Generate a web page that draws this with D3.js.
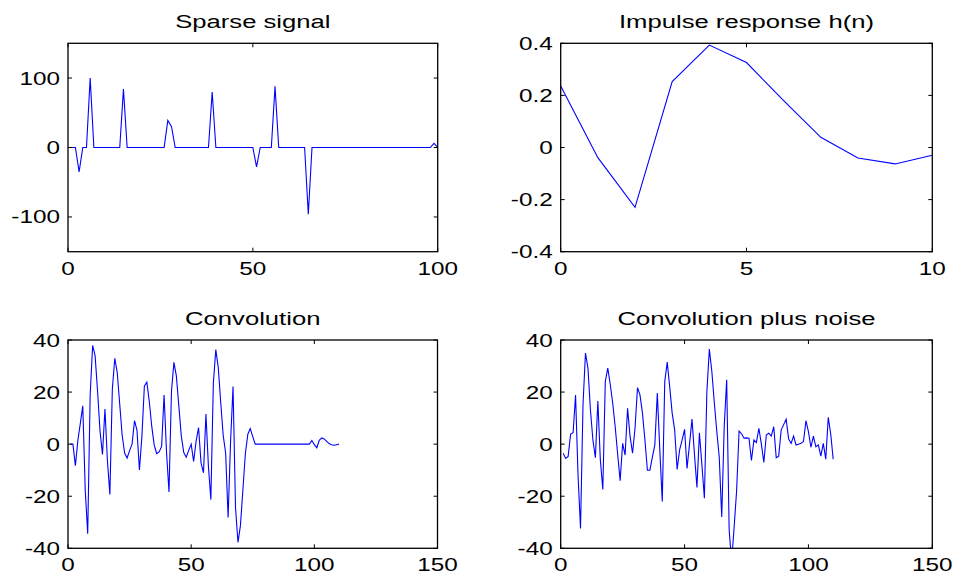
<!DOCTYPE html>
<html>
<head>
<meta charset="utf-8">
<script src="https://cdn.jsdelivr.net/npm/d3@7"></script>
<style>
  body { margin: 0; background: #fff; }
  svg { display: block; }
  text { font-family: "Liberation Sans", Arial, sans-serif; fill: #000; }
</style>
</head>
<body>
<svg id="chart" width="957" height="576"></svg>
<script>
// sparse signal, samples 1..100
const sparseSignal = [
  0, 0, -35, 0, 0, 100, 0, 0, 0, 0,
  0, 0, 0, 0, 84, 0, 0, 0, 0, 0,
  0, 0, 0, 0, 0, 0, 39, 30, 0, 0,
  0, 0, 0, 0, 0, 0, 0, 0, 80, 0,
  0, 0, 0, 0, 0, 0, 0, 0, 0, 0,
  -28, 0, 0, 0, 0, 88, 0, 0, 0, 0,
  0, 0, 0, 0, -96, 0, 0, 0, 0, 0,
  0, 0, 0, 0, 0, 0, 0, 0, 0, 0,
  0, 0, 0, 0, 0, 0, 0, 0, 0, 0,
  0, 0, 0, 0, 0, 0, 0, 0, 6, 0
];

// impulse response h(n), n = 0..10
const impulse = [0.236, -0.039, -0.23, 0.253, 0.393, 0.326, 0.18, 0.039, -0.04, -0.063, -0.03];

// convolution, samples 1..110
const convolution = [
  0, 0, -8.3, 1.4, 8, 14.7, -17.7, -34.4, 18.9, 37.9,
  34, 20.4, 5, -4, 13.5, -6.3, -19.3, 21.2, 33, 27.4,
  15.3, 3.3, -3.4, -5.3, -2.5, 0, 9, 5.4, -9.9, 2.9,
  22.3, 23.8, 16.4, 6.8, -0.4, -3.6, -3, -0.9, 18.9, -3.1,
  -18.4, 20.2, 31.4, 26.1, 14.6, 3.1, -3.2, -5, -2.4, 0,
  -6.6, 1.1, 6.4, -7.1, -11, 11.6, -8.5, -21.3, 23.4, 36.3,
  29.5, 16, 3.4, -3.5, -28.2, 1.1, 22.1, -24.3, -37.7, -31.3,
  -17.5, -3.7, 3.8, 6, 2.9, 0, 0, 0, 0, 0,
  0, 0, 0, 0, 0, 0, 0, 0, 0, 0,
  0, 0, 0, 0, 0, 0, 0, 0, 1.4, -0.2,
  -1.4, 1.5, 2.4, 2, 1.1, 0.2, -0.2, -0.4, -0.2, 0
];

// convolution plus noise, samples 1..110
const noisy = [
  -3.5, -5.5, -4.7, 3.9, 4.4, 18.9, -12, -32.4, 15, 35,
  29.2, 13.2, 1.6, -5.2, 16.6, -6.1, -17.4, 24, 29.2, 23,
  15.7, 6.7, -4, -14, 0.3, -4.2, 13.8, 3, -3.5, 6.1,
  21.7, 18.9, 11.9, 1.6, -10, -10, -5, -0.3, 19.6, -2,
  -22, 24, 31.5, 22, 11.9, 5.5, -9.7, -2.2, 1.5, 5.7,
  -9.3, 0, 9.6, -4, -16.6, 4.4, -8, -20.8, 20, 36.5,
  28, 16, 5, -5, -28, 6.7, 24.7, -33, -45, -32,
  -18, 5, 4, 2.3, 2.4, 2.3, -6.3, 1.6, 0.6, 6.1,
  0, -7, 3.5, 4.2, 3.1, 6.7, -5.2, -4.6, 5.5, 7.5,
  9.6, 2, 0.3, 3.1, -0.3, 0, 0.3, 1, 9, 4.8,
  -1.2, 3.1, -1, -0.3, -4.6, 0.3, -5.8, 10.3, 3.9, -5.8
];

const titles = ['Sparse signal', 'Impulse response h(n)', 'Convolution', 'Convolution plus noise'];
const xTicksTop = [0, 50, 100];
const yTicksSparse = [-100, 0, 100];
const xTicksImpulse = [0, 5, 10];
const yTicksImpulse = [-0.4, -0.2, 0, 0.2, 0.4];
const xTicksConv = [0, 50, 100, 150];
const yTicksConv = [-40, -20, 0, 20, 40];

const svg = d3.select('#chart');
const SX = 1.35; // the picture is stretched sideways

const panels = [
  { title: titles[0], data: sparseSignal, start: 1, box: [68, 43.3, 437.7, 251.7],
    xDomain: [0, 100], yDomain: [-150, 150], xTicks: xTicksTop, yTicks: yTicksSparse },
  { title: titles[1], data: impulse, start: 0, box: [560.7, 43.3, 932.3, 251.7],
    xDomain: [0, 10], yDomain: [-0.4, 0.4], xTicks: xTicksImpulse, yTicks: yTicksImpulse },
  { title: titles[2], data: convolution, start: 1, box: [68, 340, 437.5, 548.3],
    xDomain: [0, 150], yDomain: [-40, 40], xTicks: xTicksConv, yTicks: yTicksConv },
  { title: titles[3], data: noisy, start: 1, box: [560.7, 340, 932.3, 548.3],
    xDomain: [0, 150], yDomain: [-40, 40], xTicks: xTicksConv, yTicks: yTicksConv }
];

function label(g, x, y, txt, anchor, size) {
  g.append('text')
    .attr('transform', `translate(${x},${y}) scale(${SX},1)`)
    .attr('text-anchor', anchor)
    .style('font-size', size + 'px')
    .text(txt);
}

panels.forEach((p, i) => {
  const [x0, y0, x1, y1] = p.box;
  const x = d3.scaleLinear().domain(p.xDomain).range([x0, x1]);
  const y = d3.scaleLinear().domain(p.yDomain).range([y1, y0]);
  const g = svg.append('g');

  g.append('clipPath').attr('id', 'clip' + i)
    .append('rect').attr('x', x0).attr('y', y0).attr('width', x1 - x0).attr('height', y1 - y0);

  const line = d3.line()
    .x((d, k) => x(k + p.start))
    .y(d => y(d));

  g.append('path')
    .datum(p.data)
    .attr('clip-path', `url(#clip${i})`)
    .attr('fill', 'none')
    .attr('stroke', '#0000ff')
    .attr('stroke-width', 1.1)
    .attr('d', line);

  // inward ticks on all four sides
  const tl = 4;
  p.xTicks.forEach(t => {
    g.append('line').attr('x1', x(t)).attr('x2', x(t)).attr('y1', y1).attr('y2', y1 - tl)
      .attr('stroke', '#000').attr('stroke-width', 1);
    g.append('line').attr('x1', x(t)).attr('x2', x(t)).attr('y1', y0).attr('y2', y0 + tl)
      .attr('stroke', '#000').attr('stroke-width', 1);
    label(g, x(t), y1 + 23, String(t), 'middle', 18);
  });
  p.yTicks.forEach(t => {
    g.append('line').attr('x1', x0).attr('x2', x0 + tl).attr('y1', y(t)).attr('y2', y(t))
      .attr('stroke', '#000').attr('stroke-width', 1);
    g.append('line').attr('x1', x1).attr('x2', x1 - tl).attr('y1', y(t)).attr('y2', y(t))
      .attr('stroke', '#000').attr('stroke-width', 1);
    label(g, x0 - 8, y(t) + 6.5, String(t), 'end', 18);
  });

  g.append('rect')
    .attr('x', x0).attr('y', y0).attr('width', x1 - x0).attr('height', y1 - y0)
    .attr('fill', 'none').attr('stroke', '#000').attr('stroke-width', 1.3);

  label(g, (x0 + x1) / 2, y0 - 15, p.title, 'middle', 19);
});
</script>
</body>
</html>
